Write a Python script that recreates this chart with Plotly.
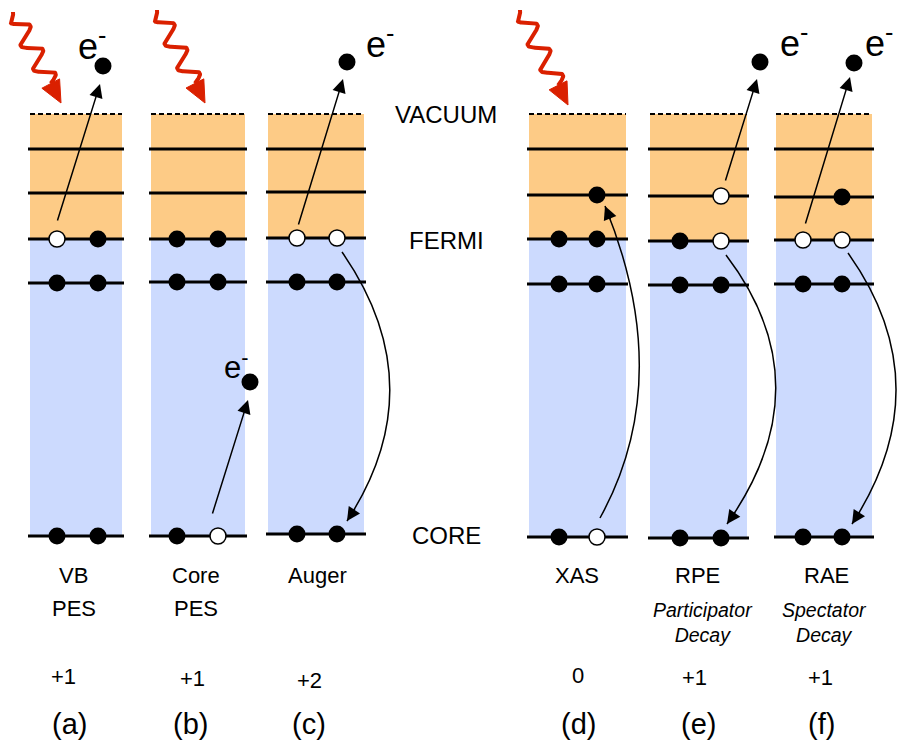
import numpy as np
import plotly.graph_objects as go

W, H = 897, 744
FONT = "Liberation Sans, Arial, sans-serif"
ORANGE = "#FDCB86"
BLUE = "#CCDAFE"
RED = "#DA2000"

# ---- panel geometry (pixel space of the figure) ----
panel_ids = ["a", "b", "c", "d", "e", "f"]
box_left = [30, 151, 268, 529, 650, 776]
box_right = [122, 245, 364, 626, 747, 872]
vacuum_y = [114, 114, 114, 114, 114, 114]
level1_y = [149, 149, 149, 149, 149, 149]
level2_y = [193, 193, 192, 195, 196, 197]
fermi_y = [239, 239, 238, 239, 241, 240]
vb_y = [283, 282, 282, 284, 285, 284]
core_y = [536, 536, 534, 537, 538, 537]
site_x1 = [57, 177, 297, 559, 680, 803]
site_x2 = [98, 218, 337, 597, 721, 842]

# occupancy per level: F = electron, H = hole, "" = nothing
occ_level2 = [["", ""], ["", ""], ["", ""], ["", "F"], ["", "H"], ["", "F"]]
occ_fermi = [["H", "F"], ["F", "F"], ["H", "H"], ["F", "F"], ["F", "H"], ["H", "H"]]
occ_vb = [["F", "F"], ["F", "F"], ["F", "F"], ["F", "F"], ["F", "F"], ["F", "F"]]
occ_core = [["F", "F"], ["F", "H"], ["F", "F"], ["F", "H"], ["F", "F"], ["F", "F"]]

# ejected electrons and labels
eject_x = [103, 250, 347, 760, 854]
eject_y = [66, 382, 62, 62, 63]
elabel_x = [92, 236, 380, 794, 879]
elabel_y = [44, 365, 42, 41, 41]
elabel_size = [36, 31, 36, 36, 36]

# straight arrows (tail -> head)
arrow_tail_x = [57, 212, 298, 725, 805]
arrow_tail_y = [222, 515, 226, 182, 225]
arrow_head_x = [100, 248, 343, 757, 850]
arrow_head_y = [84, 400, 79, 79, 77]

# curved arrows: start, control, end (quadratic)
curve_s_x = [342, 600, 726, 848]
curve_s_y = [252, 518, 255, 253]
curve_c_x = [435, 676, 825, 942]
curve_c_y = [386, 380, 385, 385]
curve_e_x = [347, 605, 727, 852]
curve_e_y = [521, 206, 524, 524]

# photons (red wavy arrows)
photon_start_x = [13, 157, 520]
photon_start_y = [12, 10, 10]
photon_tip_x = [61, 205, 568]
photon_tip_y = [103, 103, 105]

# side labels
side_labels = ["VACUUM", "FERMI", "CORE"]
side_y = [114, 240, 535]
side_x = 446

# bottom labels
name_text = ["VB", "Core", "Auger", "XAS", "RPE", "RAE"]
name_x = [73, 196, 317, 577, 697, 826]
name2_text = ["PES", "PES"]
name2_x = [74, 196]
italic_text = ["Participator<br>Decay", "Spectator<br>Decay"]
italic_x = [703, 824]
charge_text = ["+1", "+1", "+2", "0", "+1", "+1"]
charge_x = [63, 192, 309, 578, 694, 820]
charge_y = [676, 678, 680, 675, 677, 677]
tag_text = ["(a)", "(b)", "(c)", "(d)", "(e)", "(f)"]
tag_x = [69, 190, 309, 578, 698, 821]

fig = go.Figure()
shapes = []
annotations = []

for i in range(6):
    L, R = box_left[i], box_right[i]
    shapes.append(dict(type="rect", x0=L, x1=R, y0=vacuum_y[i], y1=fermi_y[i],
                       fillcolor=ORANGE, line=dict(width=0), layer="below"))
    shapes.append(dict(type="rect", x0=L, x1=R, y0=fermi_y[i], y1=core_y[i],
                       fillcolor=BLUE, line=dict(width=0), layer="below"))
    shapes.append(dict(type="line", x0=L, x1=R, y0=vacuum_y[i], y1=vacuum_y[i],
                       line=dict(color="black", width=2, dash="5px,3px"), layer="below"))
    for yy in [level1_y[i], level2_y[i], fermi_y[i], vb_y[i], core_y[i]]:
        shapes.append(dict(type="line", x0=L - 2, x1=R + 2, y0=yy, y1=yy,
                           line=dict(color="black", width=3), layer="below"))

# electrons / holes
ex, ey, hx, hy = [], [], [], []
for i in range(6):
    for occ, yy in [(occ_level2[i], level2_y[i]), (occ_fermi[i], fermi_y[i]),
                    (occ_vb[i], vb_y[i]), (occ_core[i], core_y[i])]:
        for k, xx in enumerate([site_x1[i], site_x2[i]]):
            if occ[k] == "F":
                ex.append(xx); ey.append(yy)
            elif occ[k] == "H":
                hx.append(xx); hy.append(yy)
ex += eject_x
ey += eject_y

# photons
for i in range(3):
    p0 = np.array([photon_start_x[i], photon_start_y[i]], float)
    p1 = np.array([photon_tip_x[i], photon_tip_y[i]], float)
    d = p1 - p0
    Ltot = np.linalg.norm(d)
    u = d / Ltot
    n = np.array([-u[1], u[0]])
    head_len = 22
    wave_len = Ltot - head_len
    t = np.linspace(0, 1, 200)
    env = np.clip(t * 8, 0, 1)
    pts = p0[None, :] + (t * wave_len)[:, None] * u[None, :] + \
        (9 * np.sin(2 * np.pi * 3.0 * t) * env)[:, None] * n[None, :]
    fig.add_trace(go.Scatter(x=pts[:, 0], y=pts[:, 1], mode="lines",
                             line=dict(color=RED, width=4), hoverinfo="skip",
                             showlegend=False))
    base = p0 + wave_len * u
    b1 = base + 10 * n
    b2 = base - 10 * n
    shapes.append(dict(type="path",
                       path=f"M {b1[0]},{b1[1]} L {p1[0]},{p1[1]} L {b2[0]},{b2[1]} Z",
                       fillcolor=RED, line=dict(color=RED, width=1)))

# curved arrows
for i in range(4):
    shapes.append(dict(type="path",
                       path=f"M {curve_s_x[i]},{curve_s_y[i]} Q {curve_c_x[i]},{curve_c_y[i]} {curve_e_x[i]},{curve_e_y[i]}",
                       line=dict(color="black", width=1.5)))
    dx = curve_e_x[i] - curve_c_x[i]
    dy = curve_e_y[i] - curve_c_y[i]
    nn = np.hypot(dx, dy)
    annotations.append(dict(x=curve_e_x[i], y=curve_e_y[i],
                            ax=curve_e_x[i] - 16 * dx / nn, ay=curve_e_y[i] - 16 * dy / nn,
                            xref="x", yref="y", axref="x", ayref="y", text="",
                            showarrow=True, arrowhead=2, arrowsize=1.8, arrowwidth=1.5,
                            arrowcolor="black", standoff=0))

# straight arrows
for i in range(5):
    annotations.append(dict(x=arrow_head_x[i], y=arrow_head_y[i],
                            ax=arrow_tail_x[i], ay=arrow_tail_y[i],
                            xref="x", yref="y", axref="x", ayref="y", text="",
                            showarrow=True, arrowhead=2, arrowsize=1.8, arrowwidth=1.5,
                            arrowcolor="black", standoff=0))

fig.add_trace(go.Scatter(x=ex, y=ey, mode="markers",
                         marker=dict(color="black", size=17, line=dict(width=0)),
                         hoverinfo="skip", showlegend=False))
fig.add_trace(go.Scatter(x=hx, y=hy, mode="markers",
                         marker=dict(color="white", size=16, line=dict(color="black", width=1.5)),
                         hoverinfo="skip", showlegend=False))

def txt(x, y, s, size, italic=False):
    annotations.append(dict(x=x, y=y, xref="x", yref="y", text=s, showarrow=False,
                            xanchor="center", yanchor="middle",
                            font=dict(family=FONT, size=size, color="black",
                                      style="italic" if italic else "normal")))

for i in range(5):
    txt(elabel_x[i], elabel_y[i], "e<sup>-</sup>", elabel_size[i])
for s, yy in zip(side_labels, side_y):
    txt(side_x, yy, s, 24)
for s, xx in zip(name_text, name_x):
    txt(xx, 575, s, 22)
for s, xx in zip(name2_text, name2_x):
    txt(xx, 608, s, 22)
for s, xx in zip(italic_text, italic_x):
    txt(xx, 622, s, 19.5, italic=True)
for s, xx, yy in zip(charge_text, charge_x, charge_y):
    txt(xx, yy, s, 22)
for s, xx in zip(tag_text, tag_x):
    txt(xx, 724, s, 29)

fig.update_layout(
    width=W, height=H, margin=dict(l=0, r=0, t=0, b=0),
    paper_bgcolor="white", plot_bgcolor="white",
    xaxis=dict(range=[0, W], visible=False, fixedrange=True),
    yaxis=dict(range=[H, 0], visible=False, fixedrange=True),
    shapes=shapes, annotations=annotations, showlegend=False,
)
fig.write_html("out.html")
